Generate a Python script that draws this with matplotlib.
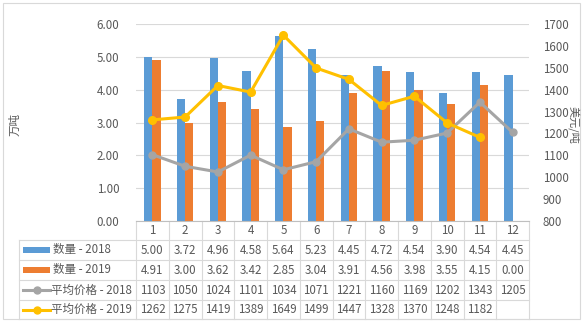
import numpy as np
import matplotlib.pyplot as plt
from matplotlib.patches import Rectangle
from matplotlib.lines import Line2D
from matplotlib.transforms import blended_transform_factory

plt.rcParams['font.family'] = ['Noto Sans CJK SC', 'DejaVu Sans']

months = [1, 2, 3, 4, 5, 6, 7, 8, 9, 10, 11, 12]
qty_2018 = [5.00, 3.72, 4.96, 4.58, 5.64, 5.23, 4.45, 4.72, 4.54, 3.90, 4.54, 4.45]
qty_2019 = [4.91, 3.00, 3.62, 3.42, 2.85, 3.04, 3.91, 4.56, 3.98, 3.55, 4.15, 0.00]
price_2018 = [1103, 1050, 1024, 1101, 1034, 1071, 1221, 1160, 1169, 1202, 1343, 1205]
price_2019 = [1262, 1275, 1419, 1389, 1649, 1499, 1447, 1328, 1370, 1248, 1182]

names = ['数量 - 2018', '数量 - 2019', '平均价格 - 2018', '平均价格 - 2019']
colors = ['#5B9BD5', '#ED7D31', '#A5A5A5', '#FFC000']
txt = '#595959'
grid = '#D9D9D9'
fs = 8.3

W, H = 584, 326
fig = plt.figure(figsize=(W / 100, H / 100), dpi=100)

# pixel-space canvas for the frame and data table
bg = fig.add_axes([0, 0, 1, 1])
bg.set_xlim(0, W)
bg.set_ylim(H, 0)
bg.axis('off')

x0, x1, ytop, ybot = 136, 529, 24, 221
ax = fig.add_axes([x0 / W, 1 - ybot / H, (x1 - x0) / W, (ybot - ytop) / H])
ax.set_facecolor('none')
x = np.array(months)
ax.bar(x - 0.125, qty_2018, width=0.25, color=colors[0], zorder=2)
ax.bar(x + 0.125, qty_2019, width=0.25, color=colors[1], zorder=2)
ax.set_xlim(0.5, 12.5)
ax.set_ylim(0, 6)
ax.set_yticks(np.arange(0, 7, 1))
ax.set_yticklabels([f'{v:.2f}' for v in np.arange(0, 7, 1)])
ax.set_xticks([])
ax.yaxis.grid(True, color=grid, lw=0.8, zorder=0)
ax.set_axisbelow(True)
for s in ['left', 'right', 'top']:
    ax.spines[s].set_visible(False)
ax.spines['bottom'].set_color('#BFBFBF')
ax.tick_params(axis='y', length=0, pad=12, labelsize=fs, labelcolor=txt)

ax2 = ax.twinx()
ax2.plot(x, price_2018, color=colors[2], lw=2.2, marker='o', ms=5, zorder=3)
ax2.plot(x[:len(price_2019)], price_2019, color=colors[3], lw=2.2, marker='o', ms=5.5, zorder=4)
ax2.set_ylim(800, 1700)
ax2.set_yticks(range(800, 1701, 100))
for s in ['left', 'right', 'top', 'bottom']:
    ax2.spines[s].set_visible(False)
ax2.tick_params(axis='y', length=0, pad=10, labelsize=fs, labelcolor=txt)

bg.text(15, 125, '万吨', rotation=90, ha='center', va='center', fontsize=fs, color=txt)
bg.text(574, 125, '美元/吨', rotation=270, ha='center', va='center', fontsize=fs - 0.3, color=txt)

# outer frame
bg.add_patch(Rectangle((3, 3), 577, 316, fill=False, ec=grid, lw=0.8))

# data table under the plot
tr = blended_transform_factory(ax.transData, bg.transData)
rows_y = [221, 240, 260, 280, 300, 319]
for y in rows_y[1:]:
    bg.plot([19, x1], [y, y], color=grid, lw=0.8)
bg.plot([19, 19], [240, 319], color=grid, lw=0.8)
for k in np.arange(0.5, 13.0, 1.0):
    bg.plot([k, k], [221, 319], color=grid, lw=0.8, transform=tr)

for m in months:
    bg.text(m, 231, str(m), ha='center', va='center', fontsize=fs, color=txt, transform=tr)

rows = [[f'{v:.2f}' for v in qty_2018],
        [f'{v:.2f}' for v in qty_2019],
        [str(v) for v in price_2018],
        [str(v) for v in price_2019]]
for r, vals in enumerate(rows):
    yc = (rows_y[r + 1] + rows_y[r + 2]) / 2
    for m, v in zip(months, vals):
        bg.text(m, yc, v, ha='center', va='center', fontsize=fs, color=txt, transform=tr)
    if r < 2:
        bg.add_patch(Rectangle((23, yc - 3), 27, 6, color=colors[r], lw=0))
        bg.text(53, yc, names[r], ha='left', va='center', fontsize=fs, color=txt)
    else:
        bg.add_line(Line2D([23, 50], [yc, yc], color=colors[r], lw=2.2))
        bg.plot([36.5], [yc], marker='o', ms=5, color=colors[r])
        bg.text(51, yc, names[r], ha='left', va='center', fontsize=fs, color=txt)

fig.savefig('out.png', dpi=100)
